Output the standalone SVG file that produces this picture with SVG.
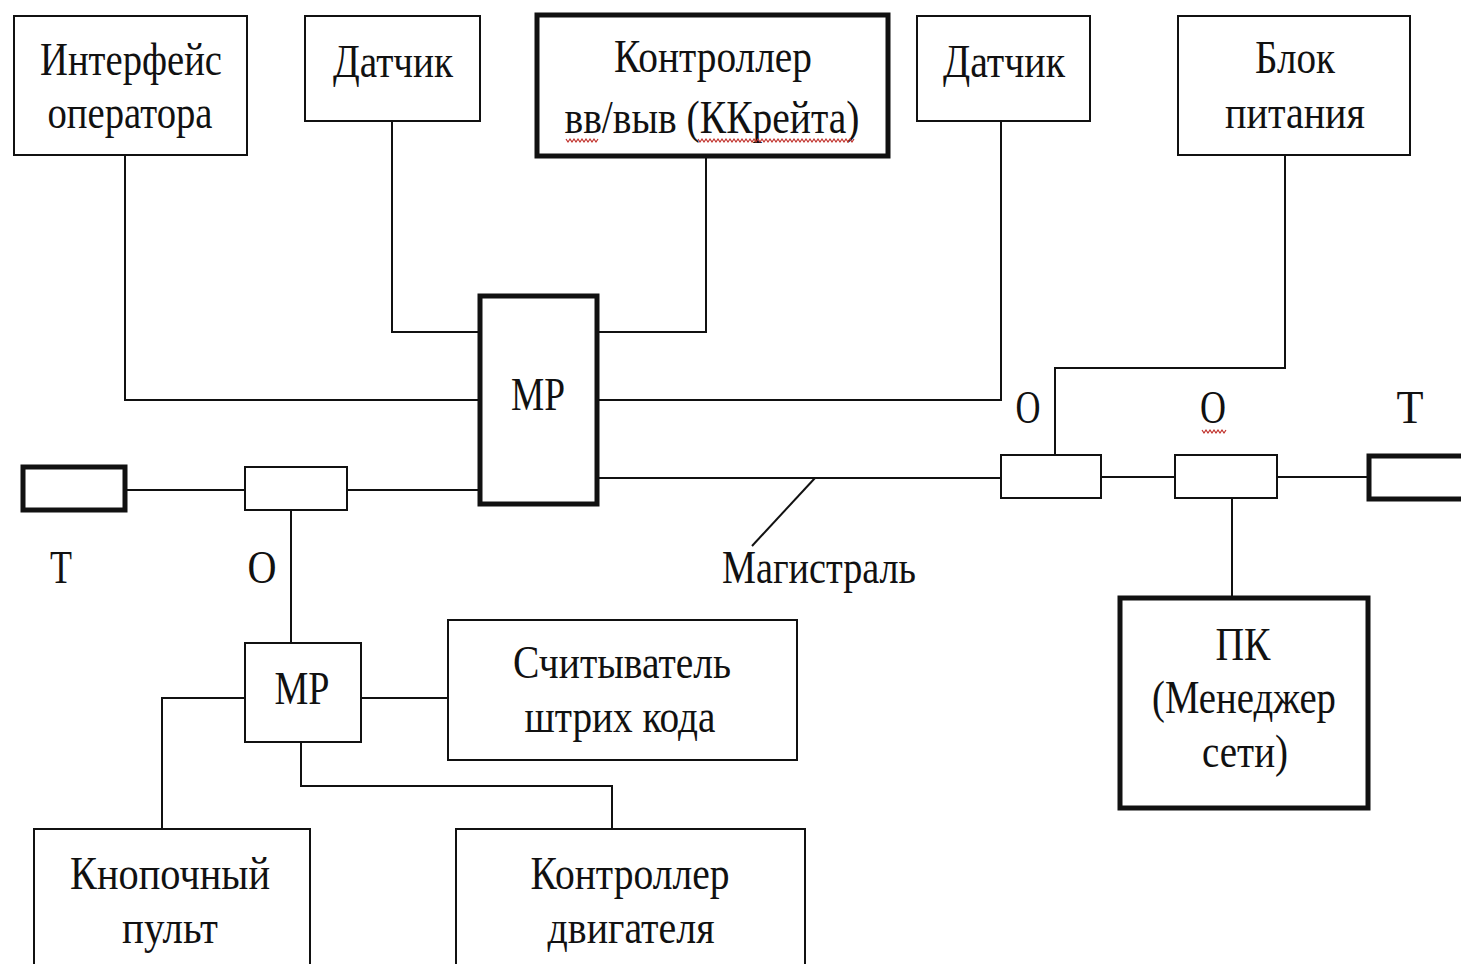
<svg xmlns="http://www.w3.org/2000/svg" width="1461" height="964" viewBox="0 0 1461 964">
<style>
.box{fill:#fff;stroke:#111;stroke-width:2}
.thick{fill:#fff;stroke:#111;stroke-width:5}
.wire{fill:none;stroke:#111;stroke-width:2}
.t{font-family:"Liberation Serif","Times New Roman",serif;font-size:46px;fill:#111;text-anchor:middle}
.sq{fill:none;stroke:#c0302a;stroke-width:1.2}
</style>
<rect width="1461" height="964" fill="#fff"/>
<g id="connectors">
<polyline class="wire" points="125,155 125,400 480,400"/>
<polyline class="wire" points="392,121 392,332 480,332"/>
<polyline class="wire" points="706,157 706,332 597,332"/>
<polyline class="wire" points="1001,121 1001,400 597,400"/>
<line class="wire" x1="597" y1="478" x2="1001" y2="478"/>
<line class="wire" x1="125" y1="490" x2="245" y2="490"/>
<line class="wire" x1="347" y1="490" x2="480" y2="490"/>
<line class="wire" x1="815" y1="478" x2="752" y2="546" stroke-width="1.5"/>
<line class="wire" x1="1101" y1="477" x2="1175" y2="477"/>
<line class="wire" x1="1277" y1="477" x2="1368" y2="477"/>
<polyline class="wire" points="1285,155 1285,368 1055,368 1055,455"/>
<line class="wire" x1="1232" y1="498" x2="1232" y2="598"/>
<line class="wire" x1="291" y1="510" x2="291" y2="643"/>
<line class="wire" x1="361" y1="698" x2="448" y2="698"/>
<polyline class="wire" points="245,698 162,698 162,829"/>
<polyline class="wire" points="301,742 301,786 612,786 612,829"/>
</g>
<g id="interface"><rect class="box" x="14" y="16" width="233" height="139"/>
<text class="t" x="131" y="75" textLength="182" lengthAdjust="spacingAndGlyphs">Интерфейс</text>
<text class="t" x="130" y="128" textLength="165" lengthAdjust="spacingAndGlyphs">оператора</text></g>
<g id="sensor1"><rect class="box" x="305" y="16" width="175" height="105"/>
<text class="t" x="393" y="77" textLength="120" lengthAdjust="spacingAndGlyphs">Датчик</text></g>
<g id="crate"><rect class="thick" x="537" y="15" width="351" height="141"/>
<text class="t" x="713" y="72" textLength="198" lengthAdjust="spacingAndGlyphs">Контроллер</text>
<text class="t" x="712" y="133" textLength="295" lengthAdjust="spacingAndGlyphs">вв/выв (ККрейта)</text>
<polyline class="sq" points="566,139 568,142 570,139 572,142 574,139 576,142 578,139 580,142 582,139 584,142 586,139 588,142 590,139 592,142 594,139 596,142 598,139"/>
<polyline class="sq" points="698,139 700,142 702,139 704,142 706,139 708,142 710,139 712,142 714,139 716,142 718,139 720,142 722,139 724,142 726,139 728,142 730,139 732,142 734,139 736,142 738,139 740,142 742,139 744,142 746,139 748,142 750,139 752,142 754,139 756,142 758,139 760,142 762,139 764,142 766,139 768,142 770,139 772,142 774,139 776,142 778,139 780,142 782,139 784,142 786,139 788,142 790,139 792,142 794,139 796,142 798,139 800,142 802,139 804,142 806,139 808,142 810,139 812,142 814,139 816,142 818,139 820,142 822,139 824,142 826,139 828,142 830,139 832,142 834,139 836,142 838,139 840,142 842,139 844,142 846,139 848,142 850,139 852,142 854,139"/></g>
<g id="sensor2"><rect class="box" x="917" y="16" width="173" height="105"/>
<text class="t" x="1004" y="77" textLength="122" lengthAdjust="spacingAndGlyphs">Датчик</text></g>
<g id="power"><rect class="box" x="1178" y="16" width="232" height="139"/>
<text class="t" x="1295" y="73" textLength="80" lengthAdjust="spacingAndGlyphs">Блок</text>
<text class="t" x="1295" y="128" textLength="140" lengthAdjust="spacingAndGlyphs">питания</text></g>
<g id="mp-main"><rect class="thick" x="480" y="296" width="117" height="208" stroke-width="4"/>
<text class="t" x="538" y="410" textLength="54" lengthAdjust="spacingAndGlyphs">МР</text></g>
<g id="term-left"><rect class="thick" x="23" y="467" width="102" height="43"/>
<text class="t" x="61" y="583" textLength="22" lengthAdjust="spacingAndGlyphs">Т</text></g>
<g id="tap-left"><rect class="box" x="245" y="467" width="102" height="43"/>
<text class="t" x="262" y="583" textLength="29" lengthAdjust="spacingAndGlyphs">О</text></g>
<g id="bus-label"><text class="t" x="819" y="583" textLength="194" lengthAdjust="spacingAndGlyphs">Магистраль</text></g>
<g id="tap-right1"><rect class="box" x="1001" y="455" width="100" height="43"/>
<text class="t" x="1028" y="423" textLength="25" lengthAdjust="spacingAndGlyphs">О</text></g>
<g id="tap-right2"><rect class="box" x="1175" y="455" width="102" height="43"/>
<text class="t" x="1213" y="423" textLength="26" lengthAdjust="spacingAndGlyphs">О</text>
<polyline class="sq" points="1202,430 1204,433 1206,430 1208,433 1210,430 1212,433 1214,430 1216,433 1218,430 1220,433 1222,430 1224,433 1226,430"/></g>
<g id="term-right"><rect class="thick" x="1369" y="456" width="110" height="43"/>
<text class="t" x="1410" y="423" textLength="27" lengthAdjust="spacingAndGlyphs">Т</text></g>
<g id="pc"><rect class="thick" x="1120" y="598" width="248" height="210"/>
<text class="t" x="1243" y="660" textLength="55" lengthAdjust="spacingAndGlyphs">ПК</text>
<text class="t" x="1244" y="713" textLength="184" lengthAdjust="spacingAndGlyphs">(Менеджер</text>
<text class="t" x="1245" y="767" textLength="86" lengthAdjust="spacingAndGlyphs">сети)</text></g>
<g id="mp-small"><rect class="box" x="245" y="643" width="116" height="99"/>
<text class="t" x="302" y="704" textLength="55" lengthAdjust="spacingAndGlyphs">МР</text></g>
<g id="barcode"><rect class="box" x="448" y="620" width="349" height="140"/>
<text class="t" x="622" y="678" textLength="218" lengthAdjust="spacingAndGlyphs">Считыватель</text>
<text class="t" x="620" y="732" textLength="191" lengthAdjust="spacingAndGlyphs">штрих кода</text></g>
<g id="keypad"><rect class="box" x="34" y="829" width="276" height="180"/>
<text class="t" x="170" y="889" textLength="200" lengthAdjust="spacingAndGlyphs">Кнопочный</text>
<text class="t" x="170" y="943" textLength="96" lengthAdjust="spacingAndGlyphs">пульт</text></g>
<g id="motor"><rect class="box" x="456" y="829" width="349" height="180"/>
<text class="t" x="630" y="889" textLength="199" lengthAdjust="spacingAndGlyphs">Контроллер</text>
<text class="t" x="631" y="943" textLength="167" lengthAdjust="spacingAndGlyphs">двигателя</text></g>
</svg>
